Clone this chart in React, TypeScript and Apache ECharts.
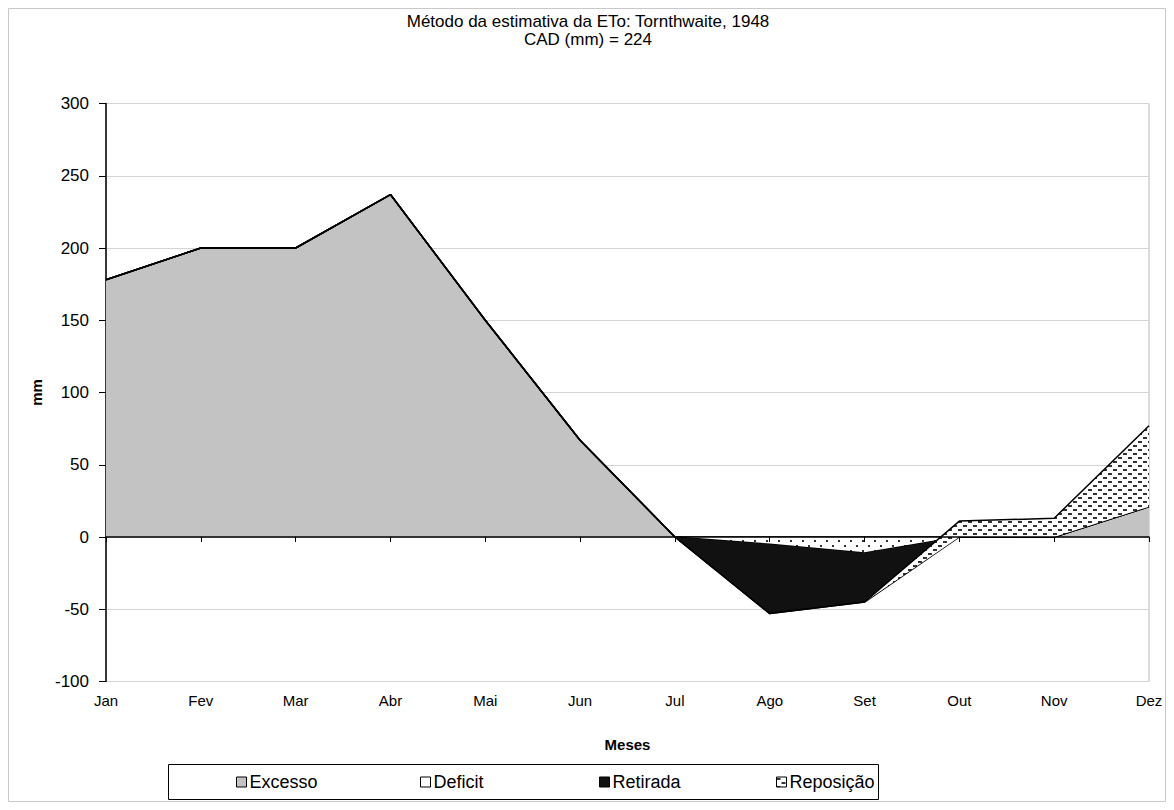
import React, { useEffect, useRef } from "react";
import * as echarts from "echarts";

const months = ["Jan", "Fev", "Mar", "Abr", "Mai", "Jun", "Jul", "Ago", "Set", "Out", "Nov", "Dez"];
const excesso = [178, 200, 200, 237, 150, 67, 0, 0, 0, 0, 0, 21];
const deficit = [0, 0, 0, 0, 0, 0, 0, -5, -11, 0, 0, 0];
const retirada = [0, 0, 0, 0, 0, 0, 0, -48, -34, 0, 0, 0];
const reposicao = [0, 0, 0, 0, 0, 0, 0, 0, 0, 11, 13, 56];
const seriesNames = ["Excesso", "Deficit", "Retirada", "Reposição"];
const titleLines = ["Método da estimativa da ETo: Tornthwaite, 1948", "CAD (mm) = 224"];

const FONT_W = "'Liberation Sans', Arial, sans-serif";

function makePattern(kind: "dots" | "dashes"): string {
  const c = document.createElement("canvas");
  const w = kind === "dots" ? 12 : 10;
  const h = kind === "dots" ? 10 : 8;
  c.width = w;
  c.height = h;
  const ctx = c.getContext("2d")!;
  ctx.fillStyle = "#ffffff";
  ctx.fillRect(0, 0, w, h);
  ctx.fillStyle = "#333333";
  if (kind === "dots") {
    ctx.fillRect(2, 2, 2, 2);
    ctx.fillRect(8, 7, 2, 2);
  } else {
    ctx.fillRect(0, 1, 4, 2);
    ctx.fillRect(5, 5, 4, 2);
  }
  return c.toDataURL();
}

export default function App() {
  const ref = useRef<HTMLDivElement>(null);
  useEffect(() => {
    if (!ref.current) return;
    const chart = echarts.init(ref.current, undefined, { renderer: "svg" });
    const dots = { image: makePattern("dots"), repeat: "repeat" } as any;
    const dashes = { image: makePattern("dashes"), repeat: "repeat" } as any;
    const fills: any[] = ["#c3c3c3", dots, "#111111", dashes];
    const legendColors: any[] = ["#c3c3c3", "#ffffff", "#111111", dashes];
    const data = [excesso, deficit, retirada, reposicao];
    const legendLeft = [228, 412, 591, 768];

    const option: any = {
      animation: false,
      backgroundColor: "#ffffff",
      title: {
        text: titleLines.join("\n"),
        left: 575,
        textAlign: "center",
        top: -1,
        textStyle: { fontFamily: FONT_W, fontSize: 17, fontWeight: "normal", color: "#000", lineHeight: 18 },
      },
      grid: {
        left: 98,
        right: 17,
        top: 95.5,
        bottom: 120.5,
        show: true,
        borderColor: "#b8b8b8",
        borderWidth: 1,
        backgroundColor: "transparent",
      },
      legend: seriesNames.map((n, i) => ({
        data: [{ name: n, icon: "rect", itemStyle: { color: legendColors[i], borderColor: "#000", borderWidth: 1 } }],
        left: legendLeft[i],
        top: 765,
        padding: 0,
        itemWidth: 10,
        itemHeight: 10,
        itemGap: 4,
        selectedMode: false,
        textStyle: { fontFamily: FONT_W, fontSize: 18, color: "#000", padding: [0, 0, 0, -2] },
      })),
      xAxis: [
        {
          type: "category",
          data: months,
          boundaryGap: false,
          axisLine: { onZero: false, show: false },
          axisTick: { show: false },
          axisLabel: { fontFamily: FONT_W, fontSize: 15, color: "#000", margin: 11 },
          name: "Meses",
          nameLocation: "middle",
          nameGap: 55,
          nameTextStyle: { fontFamily: FONT_W, fontSize: 15, fontWeight: "bold", color: "#000" },
          splitLine: { show: false },
        },
        {
          type: "category",
          data: months,
          boundaryGap: false,
          position: "bottom",
          z: 10,
          axisLine: { onZero: true, lineStyle: { color: "#000", width: 1.5 } },
          axisTick: { show: true, length: 5, lineStyle: { color: "#000" } },
          axisLabel: { show: false },
          splitLine: { show: false },
        },
      ],
      yAxis: {
        type: "value",
        min: -100,
        max: 300,
        interval: 50,
        name: "mm",
        nameLocation: "middle",
        nameGap: 57,
        nameTextStyle: { fontFamily: FONT_W, fontSize: 15, fontWeight: "bold", color: "#000" },
        axisLine: { show: true, lineStyle: { color: "#000", width: 1.5 } },
        axisTick: { show: true, length: 7, lineStyle: { color: "#000" } },
        axisLabel: { fontFamily: FONT_W, fontSize: 17, color: "#000", margin: 17 },
        splitLine: { show: true, lineStyle: { color: "#d4d4d4", width: 1 } },
      },
      graphic: [
        {
          type: "rect",
          shape: { x: 0.5, y: 0.5, width: 1157, height: 793 },
          style: { fill: "none", stroke: "#c8c8c8", lineWidth: 1 },
          silent: true,
        },
        {
          type: "rect",
          shape: { x: 160.5, y: 756.5, width: 710, height: 35 },
          style: { fill: "none", stroke: "#000", lineWidth: 1 },
          silent: true,
        },
      ],
      series: seriesNames.map((n, i) => ({
        name: n,
        type: "line",
        stack: "balanco",
        stackStrategy: "all",
        data: data[i],
        showSymbol: false,
        symbol: "none",
        lineStyle: { color: "#000", width: 1.5 },
        itemStyle: { color: legendColors[i] },
        areaStyle: { color: fills[i], opacity: 1 },
        z: 2 + i,
      })),
    };
    chart.setOption(option);
    return () => chart.dispose();
  }, []);
  return <div ref={ref} style={{ width: 1158, height: 794 }} />;
}
